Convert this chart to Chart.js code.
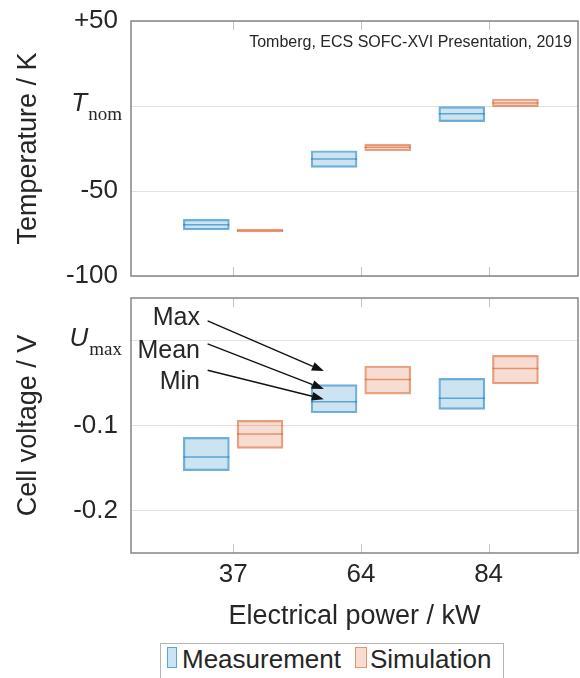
<!DOCTYPE html>
<html>
<head>
<meta charset="utf-8">
<script src="https://cdn.jsdelivr.net/npm/chart.js@4.4.1/dist/chart.umd.min.js"></script>
<style>
  html, body { margin: 0; padding: 0; background: #fff; overflow: hidden; }
  #wrap { position: relative; width: 580px; height: 678px; overflow: hidden; }
  #cTemp { position: absolute; left: 0; top: 0; }
  #cVolt { position: absolute; left: 0; top: 290px; }
  .legend {
    position: absolute; left: 160px; top: 643px; width: 342px; height: 50px;
    border: 1px solid #b4b4b4; background: #fff;
    font: 26px "Liberation Sans", Arial, Helvetica, sans-serif; color: #262626;
  }
  .legend span { position: absolute; }
  .legend .sw { top: 3px; height: 21px; box-sizing: border-box; border-width: 1.5px; border-style: solid; }
  .legend .txt { top: -1px; line-height: 32px; white-space: nowrap; }
</style>
</head>
<body>
<div id="wrap">
  <canvas id="cTemp" width="580" height="290"></canvas>
  <canvas id="cVolt" width="580" height="388"></canvas>
  <div class="legend">
    <span class="sw" style="left:6px; width:10px; background:rgba(0,114,189,0.2); border-color:rgba(0,114,189,0.55);"></span>
    <span class="txt" style="left:21px;">Measurement</span>
    <span class="sw" style="left:194px; width:12px; background:rgba(217,83,25,0.2); border-color:rgba(217,83,25,0.55);"></span>
    <span class="txt" style="left:209px;">Simulation</span>
  </div>
</div>
<script>
// Categorias (potência elétrica, kW)
const powerLabels = ['37', '64', '84'];

// Temperatura relativa a T_nom (K)
const tempMeasMin  = [-72.9, -36.1, -9.2];
const tempMeasMax  = [-66.7, -26.3, -0.4];
const tempMeasMean = [-69.8, -31.2, -4.5];
const tempSimMin   = [-74.0, -26.3, -0.4];
const tempSimMax   = [-72.6, -22.4, 4.1];
const tempSimMean  = [-73.3, -24.3, 1.8];
const tempTicks = [-100, -50, 0, 50];

// Tensão da célula relativa a U_max (V)
const voltMeasMin  = [-0.153, -0.085, -0.081];
const voltMeasMax  = [-0.114, -0.052, -0.0445];
const voltMeasMean = [-0.137, -0.072, -0.068];
const voltSimMin   = [-0.127, -0.063, -0.051];
const voltSimMax   = [-0.094, -0.030, -0.0175];
const voltSimMean  = [-0.110, -0.046, -0.033];
const voltTicks = [-0.2, -0.1, 0];

// Anotação Max / Mean / Min (valores em V)
const calloutLabels = ['Max', 'Mean', 'Min'];
const calloutTextY  = [0.026, -0.012, -0.049];
const calloutTailY  = [0.023, -0.004, -0.035];
const calloutHeadY  = [-0.036, -0.057, -0.069];

const FONT = '"Liberation Sans", Arial, Helvetica, sans-serif';
const TEXT = '#262626';
const MEAS_FILL = 'rgba(0,114,189,0.2)';
const MEAS_EDGE = 'rgba(0,114,189,0.55)';
const SIM_FILL = 'rgba(217,83,25,0.2)';
const SIM_EDGE = 'rgba(217,83,25,0.55)';

Chart.defaults.font.family = FONT;
Chart.defaults.color = TEXT;

const sideOffset = 0.21;

function boxDataset(label, mins, maxs, means, fill, edge, side) {
    return {
        label: label,
        data: powerLabels.map((_, i) => ({ x: i + 1 + side, y: [mins[i], maxs[i]] })),
        means: means,
        backgroundColor: fill,
        borderColor: edge,
        borderWidth: 1.5,
        borderSkipped: false,
        barThickness: 46,
        grouped: false
    };
}

// moldura do eixo + marcas internas no eixo x
const boxFrame = {
    id: 'boxFrame',
    afterDraw(chart) {
        const { ctx, chartArea: a } = chart;
        const x = chart.scales.x;
        ctx.save();
        ctx.strokeStyle = '#c4c4c4';
        ctx.lineWidth = 1;
        powerLabels.forEach((_, i) => {
            const px = Math.round(x.getPixelForValue(i + 1)) + 0.5;
            ctx.beginPath();
            ctx.moveTo(px, a.top); ctx.lineTo(px, a.top + 9);
            ctx.moveTo(px, a.bottom); ctx.lineTo(px, a.bottom - 9);
            ctx.stroke();
        });
        ctx.strokeStyle = '#858585';
        ctx.lineWidth = 1.5;
        ctx.strokeRect(a.left, a.top, a.width, a.height);
        ctx.restore();
    }
};

// linha da média dentro de cada caixa
const meanLines = {
    id: 'meanLines',
    afterDatasetsDraw(chart) {
        const { ctx } = chart;
        const y = chart.scales.y;
        chart.data.datasets.forEach((ds, di) => {
            const meta = chart.getDatasetMeta(di);
            meta.data.forEach((bar, i) => {
                const py = y.getPixelForValue(ds.means[i]);
                ctx.save();
                ctx.strokeStyle = ds.borderColor;
                ctx.lineWidth = 1.5;
                ctx.beginPath();
                ctx.moveTo(bar.x - bar.width / 2, py);
                ctx.lineTo(bar.x + bar.width / 2, py);
                ctx.stroke();
                ctx.restore();
            });
        });
    }
};

// rótulo T_nom / U_max no tick zero
const nomLabel = {
    id: 'nomLabel',
    afterDraw(chart, args, opts) {
        const { ctx } = chart;
        const y = chart.scales.y;
        const py = y.getPixelForValue(0);
        const right = y.right - 9;
        ctx.save();
        ctx.fillStyle = TEXT;
        ctx.textAlign = 'right';
        ctx.textBaseline = 'alphabetic';
        ctx.font = '19px "Liberation Serif", "DejaVu Serif", serif';
        ctx.fillText(opts.sub, right, py + 14);
        const w = ctx.measureText(opts.sub).width;
        ctx.font = 'italic 26px ' + FONT;
        ctx.fillText(opts.main, right - w - 1, py + 5);
        ctx.restore();
    }
};

const attribution = {
    id: 'attribution',
    afterDraw(chart, args, opts) {
        if (!opts.text) return;
        const { ctx, chartArea: a } = chart;
        ctx.save();
        ctx.fillStyle = TEXT;
        ctx.font = '16px ' + FONT;
        ctx.textAlign = 'right';
        ctx.textBaseline = 'middle';
        ctx.fillText(opts.text, a.right - 6, a.top + 22);
        ctx.restore();
    }
};

function drawArrow(ctx, x0, y0, x1, y1) {
    const ang = Math.atan2(y1 - y0, x1 - x0);
    const len = 12, half = 4.5;
    const bx = x1 - len * Math.cos(ang), by = y1 - len * Math.sin(ang);
    ctx.beginPath();
    ctx.moveTo(x0, y0);
    ctx.lineTo(bx, by);
    ctx.stroke();
    ctx.beginPath();
    ctx.moveTo(x1, y1);
    ctx.lineTo(bx + half * Math.sin(ang), by - half * Math.cos(ang));
    ctx.lineTo(bx - half * Math.sin(ang), by + half * Math.cos(ang));
    ctx.closePath();
    ctx.fill();
}

const callouts = {
    id: 'callouts',
    afterDraw(chart) {
        const { ctx } = chart;
        const x = chart.scales.x, y = chart.scales.y;
        ctx.save();
        ctx.strokeStyle = '#111';
        ctx.lineWidth = 1.3;
        ctx.font = '25px ' + FONT;
        ctx.textAlign = 'right';
        ctx.textBaseline = 'middle';
        calloutLabels.forEach((txt, i) => {
            ctx.fillStyle = TEXT;
            ctx.fillText(txt, x.getPixelForValue(0.74), y.getPixelForValue(calloutTextY[i]));
            ctx.fillStyle = '#111';
            drawArrow(ctx,
                x.getPixelForValue(0.80), y.getPixelForValue(calloutTailY[i]),
                x.getPixelForValue(1.71), y.getPixelForValue(calloutHeadY[i]));
        });
        ctx.restore();
    }
};

function yAxis(min, max, ticks, title, fmt) {
    return {
        min: min,
        max: max,
        afterBuildTicks: s => { s.ticks = ticks.map(v => ({ value: v })); },
        afterFit: s => {
            s.width = 131;
            // sem folga extra para os rótulos: a área do gráfico fica onde o layout manda
            s.paddingTop = 0;
            s.paddingBottom = 0;
        },
        grid: { drawTicks: false, color: '#e2e2e2', lineWidth: 1 },
        border: { display: false },
        ticks: { padding: 13, font: { size: 26 }, color: TEXT, callback: fmt },
        title: { display: true, text: title, font: { size: 27 }, color: TEXT, padding: { top: 12, bottom: 0 } }
    };
}

// painel superior: temperatura
new Chart(document.getElementById('cTemp'), {
    type: 'bar',
    data: {
        datasets: [
            boxDataset('Measurement', tempMeasMin, tempMeasMax, tempMeasMean, MEAS_FILL, MEAS_EDGE, -sideOffset),
            boxDataset('Simulation', tempSimMin, tempSimMax, tempSimMean, SIM_FILL, SIM_EDGE, sideOffset)
        ]
    },
    options: {
        responsive: false,
        animation: false,
        devicePixelRatio: 1,
        layout: { padding: { top: 21, bottom: 14, left: 0, right: 2 }, autoPadding: false },
        plugins: {
            legend: { display: false },
            tooltip: { enabled: false },
            nomLabel: { main: 'T', sub: 'nom' },
            attribution: { text: 'Tomberg, ECS SOFC-XVI Presentation, 2019' }
        },
        scales: {
            x: { type: 'linear', min: 0.2, max: 3.7, offset: false, display: false },
            y: yAxis(-100, 50, tempTicks, 'Temperature / K',
                v => v === 0 ? '' : (v > 0 ? '+' + v : String(v)))
        }
    },
    plugins: [meanLines, boxFrame, nomLabel, attribution]
});

// painel inferior: tensão da célula
new Chart(document.getElementById('cVolt'), {
    type: 'bar',
    data: {
        datasets: [
            boxDataset('Measurement', voltMeasMin, voltMeasMax, voltMeasMean, MEAS_FILL, MEAS_EDGE, -sideOffset),
            boxDataset('Simulation', voltSimMin, voltSimMax, voltSimMean, SIM_FILL, SIM_EDGE, sideOffset)
        ]
    },
    options: {
        responsive: false,
        animation: false,
        devicePixelRatio: 1,
        layout: { padding: { top: 8, bottom: 0, left: 0, right: 2 }, autoPadding: false },
        plugins: {
            legend: { display: false },
            tooltip: { enabled: false },
            nomLabel: { main: 'U', sub: 'max' }
        },
        scales: {
            x: {
                type: 'linear', min: 0.2, max: 3.7, offset: false, position: 'bottom',
                afterBuildTicks: s => { s.ticks = powerLabels.map((_, i) => ({ value: i + 1 })); },
                afterFit: s => {
                    s.height = 125;
                    s.paddingLeft = 0;
                    s.paddingRight = 0;
                },
                grid: { display: false, drawTicks: false },
                border: { display: false },
                ticks: { padding: 6, maxRotation: 0, font: { size: 26 }, color: TEXT,
                         callback: (v, i) => powerLabels[i] },
                title: { display: true, text: 'Electrical power / kW', font: { size: 27 }, color: TEXT,
                         padding: { top: 0, bottom: 45 } }
            },
            y: yAxis(-0.25, 0.05, voltTicks, 'Cell voltage / V',
                v => v === 0 ? '' : v.toFixed(1))
        }
    },
    plugins: [meanLines, boxFrame, nomLabel, callouts]
});
</script>
</body>
</html>
